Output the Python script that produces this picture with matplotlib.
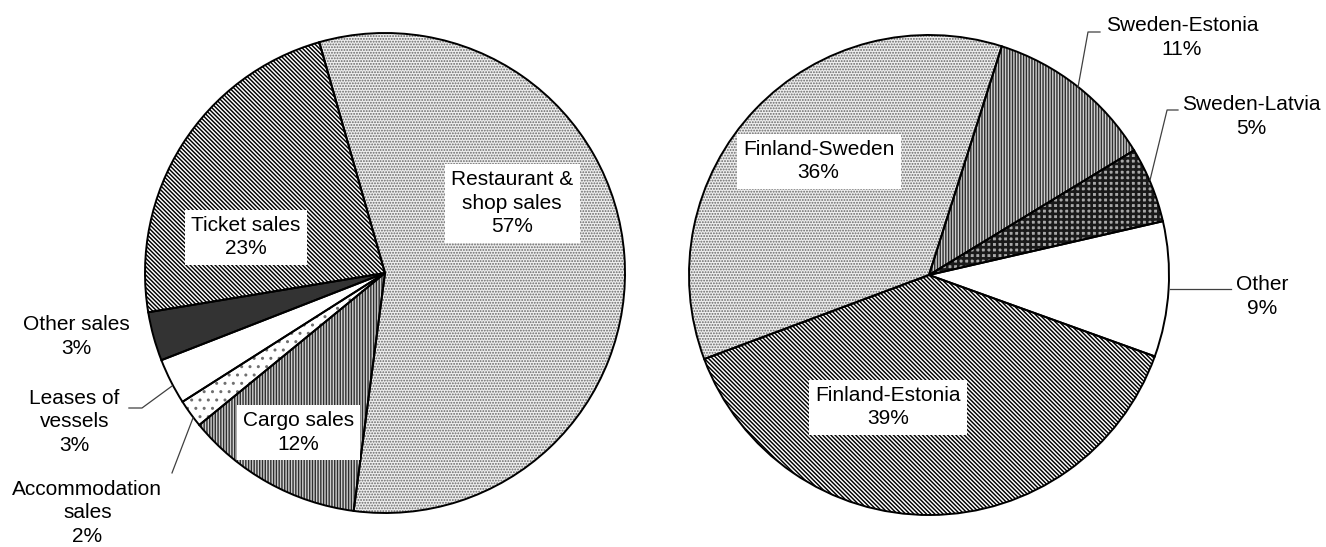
import matplotlib
matplotlib.use('Agg')
import matplotlib.pyplot as plt

plt.rcParams['font.family'] = ['Liberation Sans', 'DejaVu Sans']

# left pie: revenue by type (clockwise from the top)
rev_labels = ['Restaurant &\nshop sales', 'Cargo sales', 'Accommodation\nsales',
              'Leases of\nvessels', 'Other sales', 'Ticket sales']
rev_pct = ['57%', '12%', '2%', '3%', '3%', '23%']
rev_values = [56.5, 12.0, 1.9, 3.1, 3.3, 23.2]

# right pie: revenue by route
route_labels = ['Finland-Sweden', 'Sweden-Estonia', 'Sweden-Latvia', 'Other', 'Finland-Estonia']
route_pct = ['36%', '11%', '5%', '9%', '39%']
route_values = [35.6, 11.4, 5.1, 9.1, 38.8]

# (face, hatch, hatch colour, hatch width)
dots = ('#eeeeee', '......', '#666666', 0.9)
diag = ('white', '\\' * 8, 'black', 1.05)
vert = ('#cfcfcf', '||||||', '#2e2e2e', 1.0)
rev_styles = [dots, vert, ('white', '..', '#707070', 1.0), ('white', '', 'white', 0),
              ('#333333', '', '#333333', 0), diag]
route_styles = [dots, vert, ('#a8a8a8', '+++', '#1a1a1a', 1.9), ('white', '', 'white', 0), diag]

# label layout in pie-radius units: (x, y, boxed)
rev_pos = [(0.53, 0.29, True), (-0.36, -0.665, True), (-1.24, -1.0, False),
           (-1.295, -0.62, False), (-1.285, -0.265, False), (-0.58, 0.15, True)]
route_pos = [(-0.46, 0.475, True), (1.054, 0.99, False), (1.342, 0.66, False),
             (1.39, -0.09, False), (-0.17, -0.55, True)]
rev_leaders = [None, None, [(-0.8875, -0.833), (-0.80, -0.604)],
               [(-1.067, -0.5625), (-1.0125, -0.5625), (-0.8875, -0.471)], None, None]
route_leaders = [None, [(0.7125, 1.0125), (0.6625, 1.0125), (0.621, 0.783)],
                 [(1.0375, 0.6875), (0.992, 0.6875), (0.921, 0.396)],
                 [(1.258, -0.058), (1.004, -0.058)], None]

W, H = 1326, 547
fig = plt.figure(figsize=(W / 100, H / 100), dpi=100)


def draw_pie(cx, cy, r, values, start, styles, labels, pct, pos, leaders):
    ax = fig.add_axes([(cx - r) / W, (H - cy - r) / H, 2 * r / W, 2 * r / H])
    wedges, _ = ax.pie(values, startangle=start, counterclock=False, radius=1)
    for w, (fc, hatch, hc, hlw) in zip(wedges, styles):
        w.set_facecolor(fc)
        w.set_hatch(hatch)
        w.set_edgecolor(hc)
        w.set_linewidth(0)
        if hasattr(w, 'set_hatch_linewidth') and hlw > 0:
            w.set_hatch_linewidth(hlw)
    ax.pie(values, startangle=start, counterclock=False, radius=1,
           wedgeprops=dict(fill=False, edgecolor='black', linewidth=1.4))
    for lab, p, (x, y, boxed), lead in zip(labels, pct, pos, leaders):
        box = dict(facecolor='white', edgecolor='none', boxstyle='square,pad=0.3') if boxed else None
        ax.text(x, y, lab + '\n' + p, ha='center', va='center', fontsize=15,
                linespacing=1.3, bbox=box, clip_on=False)
        if lead:
            ax.plot([q[0] for q in lead], [q[1] for q in lead], color='#404040',
                    lw=0.9, clip_on=False)
    ax.set_xlim(-1, 1)
    ax.set_ylim(-1, 1)
    ax.axis('off')
    return ax


plt.rcParams['hatch.linewidth'] = 1.0
draw_pie(385, 273, 240, rev_values, 105.9, rev_styles, rev_labels, rev_pct, rev_pos, rev_leaders)
draw_pie(929, 275, 240, route_values, 200.5, route_styles, route_labels, route_pct, route_pos, route_leaders)

fig.savefig('out.png', dpi=100)
